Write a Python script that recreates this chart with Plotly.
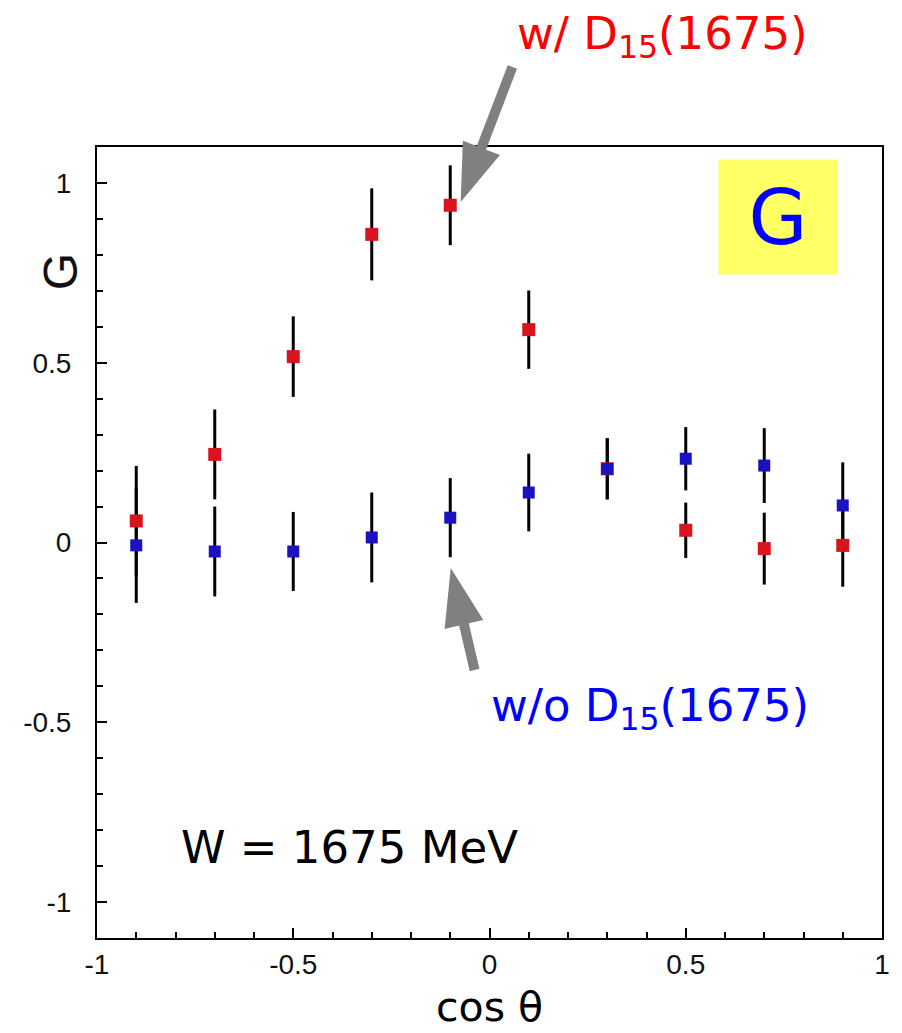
import plotly.graph_objects as go

# ---- data ----
cos_theta = [-0.9, -0.7, -0.5, -0.3, -0.1, 0.1, 0.3, 0.5, 0.7, 0.9]
g_with_d15 = [0.06, 0.245, 0.517, 0.857, 0.938, 0.592, 0.205, 0.034, -0.017, -0.008]
err_with_d15 = [0.153, 0.125, 0.112, 0.128, 0.111, 0.109, 0.085, 0.077, 0.10, 0.115]
g_without_d15 = [-0.008, -0.025, -0.025, 0.014, 0.069, 0.139, 0.205, 0.233, 0.214, 0.103]
err_without_d15 = [0.16, 0.125, 0.11, 0.125, 0.11, 0.108, 0.085, 0.088, 0.104, 0.12]

x_tick_vals = [-1, -0.5, 0, 0.5, 1]
x_tick_text = ["-1", "-0.5", "0", "0.5", "1"]
y_tick_vals = [-1, -0.5, 0, 0.5, 1]
y_tick_text = ["-1", "-0.5", "0", "0.5", "1"]

RED = "#d8141e"
BLUE = "#1a12c0"

W, H = 902, 1033
ML, MR, MT, MB = 97, 15, 147, 95
PW, PH = W - ML - MR, H - MT - MB


def px2paper(px, py):
    return (px - ML) / PW, (H - MB - py) / PH


def arrow_path(tail, tip, shaft=10, head_len=58, head_w=40):
    import math
    dx, dy = tip[0] - tail[0], tip[1] - tail[1]
    n = math.hypot(dx, dy)
    ux, uy = dx / n, dy / n
    nx, ny = -uy, ux
    bx, by = tip[0] - ux * head_len, tip[1] - uy * head_len
    pts = [
        (tail[0] + nx * shaft / 2, tail[1] + ny * shaft / 2),
        (bx + nx * shaft / 2, by + ny * shaft / 2),
        (bx + nx * head_w / 2, by + ny * head_w / 2),
        tip,
        (bx - nx * head_w / 2, by - ny * head_w / 2),
        (bx - nx * shaft / 2, by - ny * shaft / 2),
        (tail[0] - nx * shaft / 2, tail[1] - ny * shaft / 2),
    ]
    pp = [px2paper(*p) for p in pts]
    return "M" + "L".join(f"{a:.5f},{b:.5f}" for a, b in pp) + "Z"


fig = go.Figure()

# error bars first (so markers sit on top)
for y, e in ((g_with_d15, err_with_d15), (g_without_d15, err_without_d15)):
    fig.add_trace(go.Scatter(
        x=cos_theta, y=y, mode="markers",
        marker=dict(size=1, opacity=0),
        error_y=dict(type="data", array=e, visible=True, color="black",
                     thickness=3, width=0),
        showlegend=False, hoverinfo="skip"))

fig.add_trace(go.Scatter(x=cos_theta, y=g_with_d15, mode="markers",
                         marker=dict(symbol="square", size=13, color=RED),
                         name="w/ D15(1675)", showlegend=False))
fig.add_trace(go.Scatter(x=cos_theta, y=g_without_d15, mode="markers",
                         marker=dict(symbol="square", size=12, color=BLUE),
                         name="w/o D15(1675)", showlegend=False))

axis_common = dict(
    showline=True, linewidth=2, linecolor="black", mirror=True,
    showgrid=False, zeroline=False,
    ticks="inside", ticklen=10, tickwidth=2, tickcolor="black",
    tickfont=dict(family="Liberation Sans, Arial, sans-serif", size=28, color="#111"),
    tickmode="array",
)
minor_vals = [round(i * 0.1, 1) for i in range(-10, 11) if i % 5]

fig.update_xaxes(range=[-1, 1], tickvals=x_tick_vals, ticktext=x_tick_text,
                 ticklabelstandoff=0,
                 minor=dict(tickmode="array", tickvals=minor_vals, ticks="inside",
                            ticklen=6, tickwidth=2, tickcolor="black"),
                 **axis_common)
fig.update_yaxes(range=[-1.1, 1.1], tickvals=y_tick_vals, ticktext=y_tick_text,
                 ticklabelstandoff=18,
                 minor=dict(tickmode="array", tickvals=minor_vals, ticks="inside",
                            ticklen=6, tickwidth=2, tickcolor="black"),
                 **axis_common)

ann_font = "DejaVu Sans, Verdana, sans-serif"
annotations = [
    dict(text="w/ D<sub>15</sub>(1675)", x=px2paper(518, 0)[0], y=px2paper(0, 36)[1],
         xanchor="left", yanchor="middle",
         font=dict(family=ann_font, size=45, color="#ff0000")),
    dict(text="w/o D<sub>15</sub>(1675)", x=px2paper(491, 0)[0], y=px2paper(0, 708)[1],
         xanchor="left", yanchor="middle",
         font=dict(family=ann_font, size=45, color="#0000ff")),
    dict(text="W = 1675 MeV", x=px2paper(180, 0)[0], y=px2paper(0, 847)[1],
         xanchor="left", yanchor="middle",
         font=dict(family=ann_font, size=45, color="black")),
    dict(text="G", x=px2paper(782, 0)[0], y=px2paper(0, 217)[1],
         xanchor="center", yanchor="middle", width=116, height=112,
         bgcolor="#ffff66", valign="middle",
         font=dict(family=ann_font, size=76, color="#0000ff")),
    dict(text="cos θ", x=px2paper(492, 0)[0], y=px2paper(0, 1007)[1],
         xanchor="center", yanchor="middle",
         font=dict(family=ann_font, size=41, color="black")),
    dict(text="G", x=px2paper(60, 0)[0], y=px2paper(0, 272)[1], textangle=-90,
         xanchor="center", yanchor="middle",
         font=dict(family="Liberation Sans, Arial, sans-serif", size=48, color="#111")),
]
for a in annotations:
    a.update(xref="paper", yref="paper", showarrow=False)

shapes = [
    dict(type="path", xref="paper", yref="paper", layer="above",
         path=arrow_path((515, 67), (463, 202)), fillcolor="#808080",
         line=dict(width=0)),
    dict(type="path", xref="paper", yref="paper", layer="above",
         path=arrow_path((477, 670), (453, 568)), fillcolor="#808080",
         line=dict(width=0)),
]

fig.update_layout(
    width=W, height=H,
    margin=dict(l=ML, r=MR, t=MT, b=MB),
    plot_bgcolor="white", paper_bgcolor="white",
    annotations=annotations, shapes=shapes,
    showlegend=False,
)

fig.write_html("out.html")
